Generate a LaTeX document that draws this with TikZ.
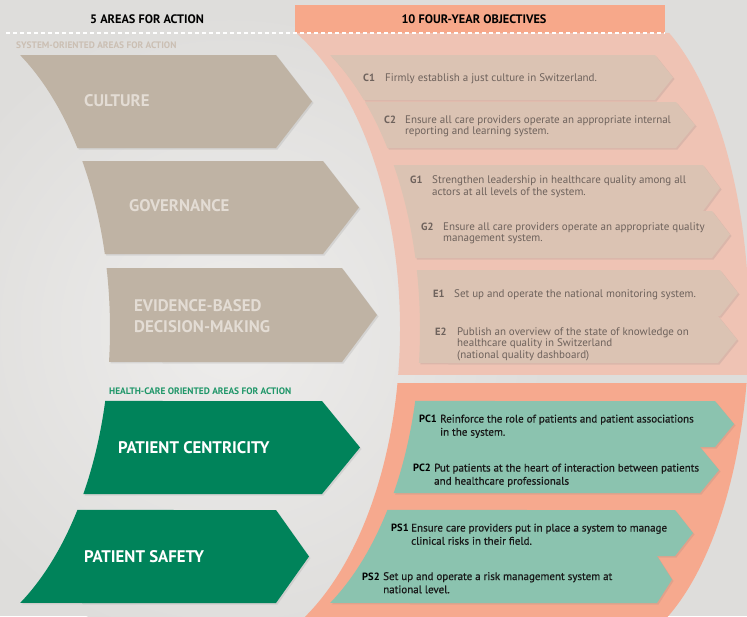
\documentclass[tikz,border=0pt]{standalone}
\usepackage{fontspec}
\setmainfont{PT Sans}
\usepackage{tikz}
\usetikzlibrary{calc,shadows}

\definecolor{bgcol}{HTML}{DEDDDB}
\definecolor{bglight}{HTML}{EEEDEC}
\definecolor{headorange}{HTML}{F7A88A}
\definecolor{bandpale}{HTML}{EFC3B4}
\definecolor{bandstrong}{HTML}{F6A98E}
\definecolor{objbeige}{HTML}{DBC3B3}
\definecolor{objgray}{HTML}{6E625C}
\definecolor{areabeige}{HTML}{BFB3A4}
\definecolor{areatext}{HTML}{E3DCD4}
\definecolor{areagreen}{HTML}{00835A}
\definecolor{objteal}{HTML}{8BC3AF}
\definecolor{sysgray}{HTML}{CBBFB3}
\definecolor{hcgreen}{HTML}{1E9668}

% chevron with an elliptic left edge: style, ellipse centre x, top y, bottom y, right x, tip x
\newcommand{\chevron}[6]{%
  \pgfmathsetmacro{\tTop}{asin((#3-329)/320)}%
  \pgfmathsetmacro{\tBot}{asin((#4-329)/320)}%
  \fill[#1] ($(#2,329)+(\tBot:186 and 320)$)
    arc[start angle=\tBot, end angle=\tTop, x radius=186, y radius=320]
    -- (#5,#3) -- (#6,{(#3+#4)/2}) -- (#5,#4) -- cycle;
}

\begin{document}
\begin{tikzpicture}[x=1pt,y=-1pt,
    softshadow/.style={drop shadow={opacity=0.18, shadow xshift=1.5pt, shadow yshift=-1.5pt}},
    head/.style={font=\bfseries\fontsize{12.3}{14}\selectfont, text=black, inner sep=0pt},
    section/.style={anchor=base west, inner sep=0pt, font=\bfseries\fontsize{9.4}{11}\selectfont},
    arealabel/.style={anchor=base west, inner sep=0pt, align=left, font=\bfseries\fontsize{16.8}{21}\selectfont},
    objlabel/.style={anchor=base west, inner sep=0pt, font=\bfseries\fontsize{10.5}{11.8}\selectfont},
    objtext/.style={anchor=base west, inner sep=0pt, align=left, text=objgray, font=\fontsize{11}{11.8}\selectfont},
    tealtext/.style={anchor=base west, inner sep=0pt, align=left, text=black!90, font=\fontsize{11}{13.2}\selectfont\addfontfeature{FakeBold=0.6}}]
  \useasboundingbox (0,0) rectangle (747,616);
  \fill[bgcol] (0,0) rectangle (747,616);
  \shade[inner color=bglight, outer color=bgcol] (230,330) circle (320);

  % bands of objectives
  \fill[bandpale] ($(214,329)+(8.01:186 and 330)$)
    arc[start angle=8.01, end angle=-63.77, x radius=186, y radius=330]
    -- ($(598,324)+(-61.87:151 and 330)$)
    arc[start angle=-61.87, end angle=8.89, x radius=151, y radius=330] -- cycle;
  \fill[bandstrong] ($(214,329)+(9.42:186 and 330)$)
    arc[start angle=9.42, end angle=64.2, x radius=186, y radius=330]
    -- ($(598,324)+(63.77:151 and 330)$)
    arc[start angle=63.77, end angle=10.3, x radius=151, y radius=330] -- cycle;

  % headers
  \fill[headorange] (295,5) rectangle (665,33);
  \draw[white, line width=1.2pt, dash pattern=on 4pt off 3pt] (6,33) -- (665,33);
  \node[head] (areashead) at (147,19) {5 AREAS FOR ACTION};
  \node[head] (objhead) at (474,19) {10 FOUR-YEAR OBJECTIVES};
  \node[section, text=sysgray] (syslabel) at (16,48.5) {SYSTEM-ORIENTED AREAS FOR ACTION};
  \node[section, text=hcgreen] (hclabel) at (109,394.5) {HEALTH-CARE ORIENTED AREAS FOR ACTION};

  % areas for action
  \chevron{areabeige, softshadow}{-76}{55}{148}{276}{312}
  \chevron{areabeige, softshadow}{-76}{161}{254}{323}{359}
  \chevron{areabeige, softshadow}{-76}{268}{362}{342}{377}
  \chevron{areagreen, softshadow}{-76}{401}{494}{322}{360}
  \chevron{areagreen, softshadow}{-76}{510}{603}{276}{309}
  \node[arealabel, text=areatext] (culture) at (84,106) {CULTURE};
  \node[arealabel, text=areatext] (governance) at (129,211) {GOVERNANCE};
  \node[arealabel, text=areatext] (evidence) at (134,332) {EVIDENCE-BASED\\DECISION-MAKING};
  \node[arealabel, text=white] (centricity) at (118,453) {PATIENT CENTRICITY};
  \node[arealabel, text=white] (safety) at (84,562) {PATIENT SAFETY};

  % objectives (text nodes sit on the baseline of their last line)
  \chevron{objbeige, softshadow}{234}{55}{100}{655}{673}
  \chevron{objbeige, softshadow}{234}{102}{148}{676}{695}
  \chevron{objbeige, softshadow}{234}{165}{211}{703}{720}
  \chevron{objbeige, softshadow}{234}{211}{258}{712}{730}
  \chevron{objbeige, softshadow}{234}{270}{316}{720}{738}
  \chevron{objbeige, softshadow}{234}{316}{363}{718}{737}
  \chevron{objteal, softshadow}{234}{401}{447}{715}{734}
  \chevron{objteal, softshadow}{234}{447}{493}{700}{719}
  \chevron{objteal, softshadow}{234}{510}{556}{675}{693}
  \chevron{objteal, softshadow}{234}{556}{603}{657}{672}

  \node[objlabel, text=objgray] (c1) at (363,81.5) {C1};
  \node[objtext] (c1text) at (385,81.5) {Firmly establish a just culture in Switzerland.};
  \node[objlabel, text=objgray] (c2) at (384,123) {C2};
  \node[objtext] (c2text) at (405,134.8) {Ensure all care providers operate an appropriate internal\\reporting and learning system.};
  \node[objlabel, text=objgray] (g1) at (410,183.5) {G1};
  \node[objtext] (g1text) at (432,195.3) {Strengthen leadership in healthcare quality among all\\actors at all levels of the system.};
  \node[objlabel, text=objgray] (g2) at (421,230) {G2};
  \node[objtext] (g2text) at (443,241.8) {Ensure all care providers operate an appropriate quality\\management system.};
  \node[objlabel, text=objgray] (e1) at (433,297.5) {E1};
  \node[objtext] (e1text) at (454,297.5) {Set up and operate the national monitoring system.};
  \node[objlabel, text=objgray] (e2) at (435,335) {E2};
  \node[objtext] (e2text) at (457,358.6) {Publish an overview of the state of knowledge on\\healthcare quality in Switzerland\\(national quality dashboard)};

  \node[objlabel, text=black] (pc1) at (419,422.5) {PC1};
  \node[tealtext] (pc1text) at (440,435.7) {Reinforce the role of patients and patient associations\\in the system.};
  \node[objlabel, text=black] (pc2) at (413,471.5) {PC2};
  \node[tealtext] (pc2text) at (434,484.7) {Put patients at the heart of interaction between patients\\and healthcare professionals};
  \node[objlabel, text=black] (ps1) at (391,531.5) {PS1};
  \node[tealtext] (ps1text) at (411,544.7) {Ensure care providers put in place a system to manage\\clinical risks in their field.};
  \node[objlabel, text=black] (ps2) at (362,580) {PS2};
  \node[tealtext] (ps2text) at (383,593.2) {Set up and operate a risk management system at\\national level.};
\end{tikzpicture}
\end{document}
